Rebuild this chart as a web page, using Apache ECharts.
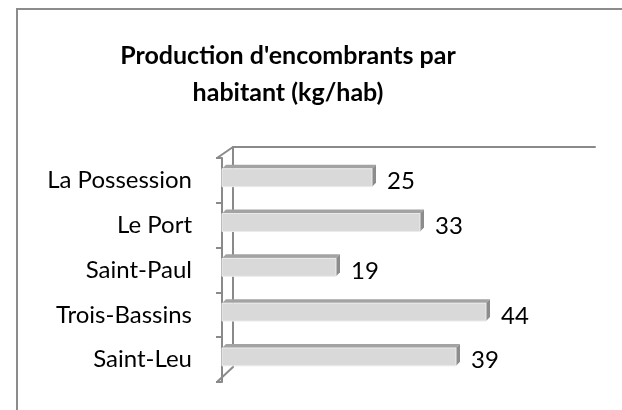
<!DOCTYPE html>
<html>
<head>
<meta charset="utf-8">
<script src="https://cdn.jsdelivr.net/npm/echarts@6/dist/echarts.min.js"></script>
<style>
html,body{margin:0;padding:0;background:#fff;}
#chart{width:622px;height:410px;}
</style>
</head>
<body>
<div id="chart"></div>
<script>
const categories = ["La Possession", "Le Port", "Saint-Paul", "Trois-Bassins", "Saint-Leu"];
const values = [25, 33, 19, 44, 39];
const titleText = "Production d'encombrants par\nhabitant (kg/hab)";
const axisMax = 60;

const FONT = 'Lato';
const AXIS_COLOR = '#8a8a8a';

const chart = echarts.init(document.getElementById('chart'));

function renderItem(params, api) {
  const idx = api.value(1);
  const v = api.value(0);
  const p0 = api.coord([0, idx]);
  const p1 = api.coord([v, idx]);
  const band = api.size([0, 1])[1];
  const d = 4;
  const h = band * 0.4;
  const ft = p0[1] - band * 0.26;
  const fb = ft + h;
  const x0 = p0[0], x1 = p1[0];
  return {
    type: 'group',
    children: [
      { type: 'polygon', shape: { points: [[x0, ft], [x0 + d, ft - d], [x1 + d, ft - d], [x1, ft]] },
        style: { fill: '#a3a3a3' } },
      { type: 'polygon', shape: { points: [[x1, ft], [x1 + d, ft - d], [x1 + d, fb - d], [x1, fb]] },
        style: { fill: '#8c8c8c' } },
      { type: 'rect', shape: { x: x0, y: ft, width: x1 - x0, height: h },
        style: { fill: '#d9d9d9', stroke: '#ececec', lineWidth: 1 } },
      { type: 'text', x: x1 + d + 11, y: p0[1] + 1,
        style: { text: String(v), fill: '#000', font: '24px ' + FONT, textVerticalAlign: 'middle', textAlign: 'left' } }
    ]
  };
}

chart.setOption({
  animation: false,
  title: {
    text: titleText,
    left: 283,
    top: 32,
    textAlign: 'center',
    textStyle: { fontFamily: FONT, fontWeight: 'bold', fontSize: 25, lineHeight: 37, color: '#000' }
  },
  grid: [
    { left: 222, top: 158, width: 360, height: 224 },
    { left: 233, top: 147, width: 362, height: 220 }
  ],
  xAxis: [
    { gridIndex: 0, type: 'value', min: 0, max: axisMax, show: false },
    { gridIndex: 1, type: 'value', min: 0, max: 1, position: 'top',
      axisLine: { show: true, onZero: false, lineStyle: { color: AXIS_COLOR, width: 2 } },
      axisTick: { show: false }, axisLabel: { show: false }, splitLine: { show: false } }
  ],
  yAxis: [
    { gridIndex: 0, type: 'category', data: categories, inverse: true, offset: 5,
      axisLine: { show: true, lineStyle: { color: AXIS_COLOR, width: 2 } },
      axisTick: { show: true, length: 6, lineStyle: { color: AXIS_COLOR, width: 2 } },
      axisLabel: { margin: 25, fontFamily: FONT, fontSize: 24, color: '#000' } },
    { gridIndex: 1, type: 'value', min: 0, max: 1,
      axisLine: { show: true, onZero: false, lineStyle: { color: AXIS_COLOR, width: 2 } },
      axisTick: { show: false }, axisLabel: { show: false }, splitLine: { show: false } }
  ],
  graphic: [
    { type: 'rect', shape: { x: 17, y: 9, width: 700, height: 500 }, style: { fill: null, stroke: '#8c8c8c', lineWidth: 2 } },
    { type: 'line', shape: { x1: 217, y1: 158, x2: 233, y2: 147 }, style: { stroke: AXIS_COLOR, lineWidth: 2 } },
    { type: 'line', shape: { x1: 217, y1: 382, x2: 233, y2: 367 }, style: { stroke: AXIS_COLOR, lineWidth: 2 } }
  ],
  series: [{
    type: 'custom',
    xAxisIndex: 0, yAxisIndex: 0,
    renderItem: renderItem,
    encode: { x: 0, y: 1 },
    data: values.map((v, i) => [v, i])
  }]
});
</script>
</body>
</html>
